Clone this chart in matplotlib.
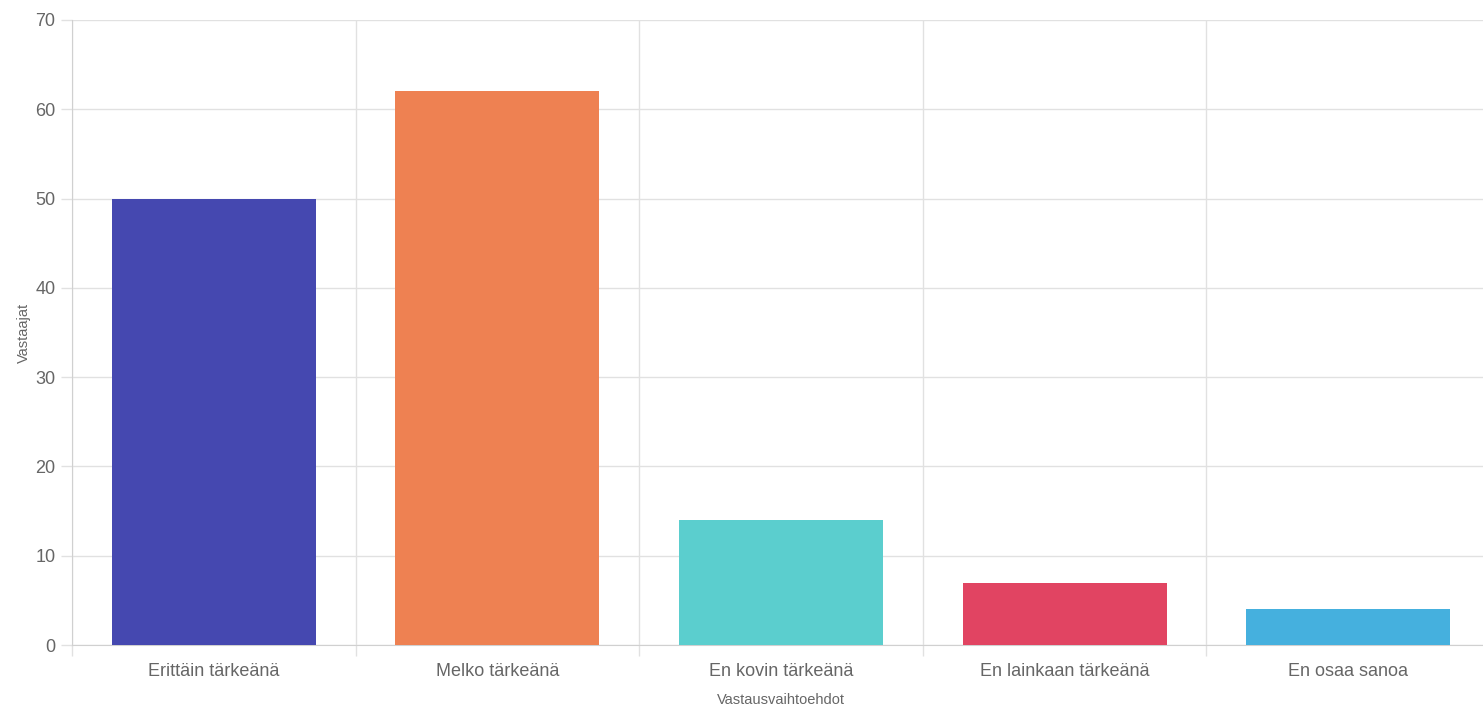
import numpy as np
import matplotlib.pyplot as plt

categories = ['Erittäin tärkeänä', 'Melko tärkeänä', 'En kovin tärkeänä',
              'En lainkaan tärkeänä', 'En osaa sanoa']
values = [50, 62, 14, 7, 4]
colors = ['#4548b0', '#ee8152', '#5bcece', '#e14462', '#45b0de']

plt.rcParams['font.family'] = ['Liberation Sans', 'DejaVu Sans']

fig = plt.figure(figsize=(14.83, 7.04), dpi=100)
ax = fig.add_axes([72 / 1483, 1 - 645 / 704, (1490 - 72) / 1483, 625 / 704])

x = np.arange(len(categories))
ax.bar(x, values, width=0.72, color=colors, zorder=3)

ax.set_xlim(-0.5, len(categories) - 0.5)
ax.set_ylim(0, 70)
ax.set_yticks(range(0, 71, 10))
ax.set_xticks(x)
ax.set_xticklabels(categories)
ax.set_xticks(np.arange(-0.5, len(categories), 1), minor=True)

grid_c = '#e1e1e1'
ax.grid(axis='y', color=grid_c, linewidth=1, zorder=0)
ax.grid(axis='x', which='minor', color=grid_c, linewidth=1, zorder=0)
ax.tick_params(axis='x', which='major', length=0, pad=13, labelsize=13, labelcolor='#666666')
ax.tick_params(axis='x', which='minor', length=8, color=grid_c, width=1)
ax.tick_params(axis='y', length=8, color=grid_c, width=1, pad=4, labelsize=13, labelcolor='#666666')

for s in ['top', 'right']:
    ax.spines[s].set_visible(False)
for s in ['left', 'bottom']:
    ax.spines[s].set_color('#d0d0d0')

ax.set_xlabel('Vastausvaihtoehdot', fontsize=10.5, color='#666666', labelpad=9)
ax.set_ylabel('Vastaajat', fontsize=10.5, color='#666666', labelpad=3)

fig.savefig('out.png', dpi=100)
